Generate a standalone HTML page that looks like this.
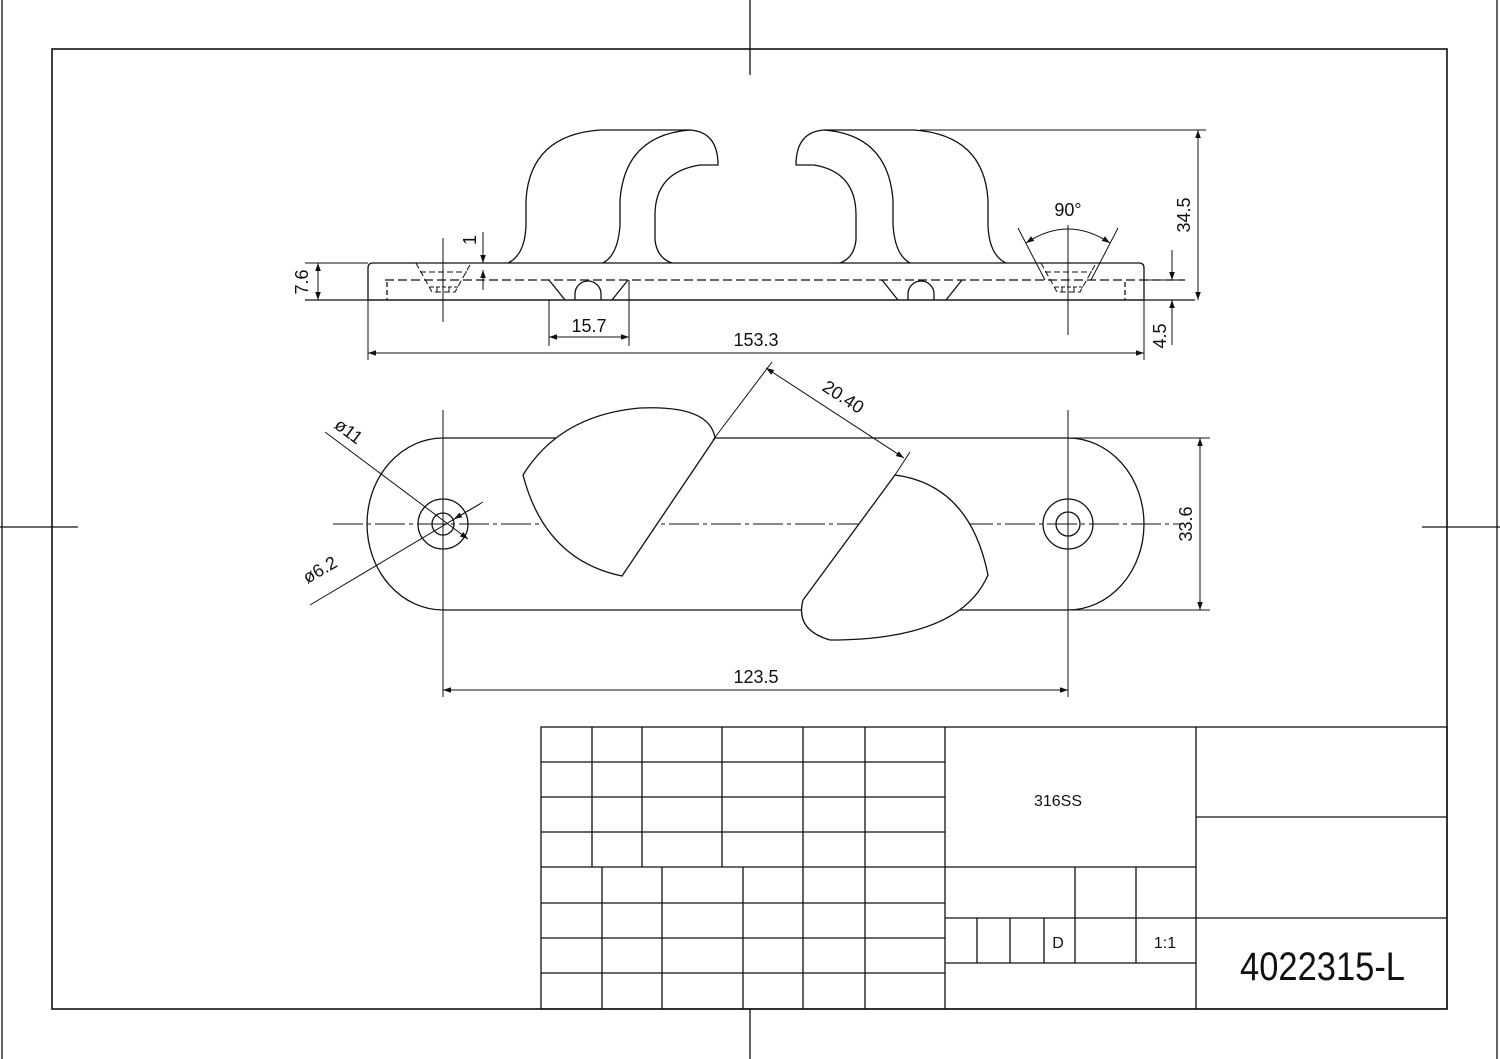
<!DOCTYPE html>
<html><head><meta charset="utf-8"><style>
html,body{margin:0;padding:0;background:#fff;}
svg{display:block;}
text{font-family:"Liberation Sans Narrow","Liberation Sans",sans-serif;fill:#111;}
</style></head><body>
<svg width="1500" height="1059" viewBox="0 0 1500 1059" xmlns="http://www.w3.org/2000/svg">
<defs>
<marker id="a" viewBox="0 0 10 10" refX="10" refY="5" markerWidth="10" markerHeight="8" orient="auto-start-reverse" markerUnits="userSpaceOnUse"><path d="M0,1.5 L10,5 L0,8.5 z" fill="#111"/></marker>
</defs>
<g fill="none" stroke="#111" stroke-width="1.3">
<line x1="2" y1="0" x2="2" y2="1059"/>
<line x1="1497" y1="0" x2="1497" y2="1059"/>
<rect x="52" y="49" width="1395" height="960" stroke-width="1.6"/>
<line x1="750" y1="0" x2="750" y2="75"/>
<line x1="750" y1="1009" x2="750" y2="1059"/>
<line x1="0" y1="527" x2="78" y2="527"/>
<line x1="1422" y1="527" x2="1500" y2="527"/>

<path d="M368,300 L368,268 Q368,263 373,263 L1139,263 Q1144,263 1144,268 L1144,300 Z"/>
<line x1="305" y1="300" x2="1195" y2="300"/>
<line x1="385" y1="280" x2="1185" y2="280" stroke-dasharray="9,4"/>
<line x1="387" y1="282" x2="387" y2="300" stroke-dasharray="5,3"/>
<line x1="1125" y1="282" x2="1125" y2="300" stroke-dasharray="5,3"/>
<path d="M508,263 Q525,255 526,225 L526,200 Q530,135 600,130 L690,130 Q718,132 718,165 L700,165 Q655,172 655,215 L655,240 Q657,258 672,263"/>
<path d="M603,263 Q618,255 620,225 L620,200 Q625,135 690,130"/>
<path d="M1006,263 Q989,255 988,225 L988,200 Q984,135 914,130 L824,130 Q796,132 796,165 L814,165 Q856,172 856,215 L856,240 Q854,258 840,263"/>
<path d="M910,263 Q895,255 893,225 L893,200 Q888,135 824,130"/>
<g stroke-width="1">
<path d="M416,263 L432,292 L455,292 L471,263" stroke-dasharray="6,3"/>
<line x1="420" y1="272" x2="467" y2="272" stroke-dasharray="6,3"/>
<line x1="430" y1="287" x2="458" y2="287" stroke-dasharray="4,2"/>
<line x1="437" y1="287" x2="437" y2="292"/><line x1="449" y1="287" x2="449" y2="292"/>
<path d="M1041,263 L1057,292 L1080,292 L1096,263" stroke-dasharray="6,3"/>
<line x1="1045" y1="272" x2="1092" y2="272" stroke-dasharray="6,3"/>
<line x1="1055" y1="287" x2="1083" y2="287" stroke-dasharray="4,2"/>
<line x1="1062" y1="287" x2="1062" y2="292"/><line x1="1074" y1="287" x2="1074" y2="292"/>
</g>
<path d="M549,280 L565,300 M628,280 L612,300 M575,300 L575,294 A13,13 0 0 1 601,294 L601,300"/>
<path d="M882,280 L898,300 M962,280 L946,300 M908,300 L908,294 A13,13 0 0 1 934,294 L934,300"/>
<line x1="443" y1="238" x2="443" y2="322" stroke-width="1"/>
<line x1="1068" y1="225" x2="1068" y2="335" stroke-width="1"/>

<line x1="305" y1="263" x2="368" y2="263" stroke-width="1"/>
<line x1="318" y1="263" x2="318" y2="300" stroke-width="1" marker-start="url(#a)" marker-end="url(#a)"/>
<line x1="470" y1="263" x2="490" y2="263" stroke-width="1"/>
<line x1="483" y1="232" x2="483" y2="263" stroke-width="1" marker-end="url(#a)"/>
<line x1="483" y1="290" x2="483" y2="270" stroke-width="1" marker-end="url(#a)"/>
<line x1="549" y1="300" x2="549" y2="346" stroke-width="1"/>
<line x1="629" y1="280" x2="629" y2="346" stroke-width="1"/>
<line x1="549" y1="337" x2="629" y2="337" stroke-width="1" marker-start="url(#a)" marker-end="url(#a)"/>
<line x1="368" y1="300" x2="368" y2="360" stroke-width="1"/>
<line x1="1144" y1="300" x2="1144" y2="360" stroke-width="1"/>
<line x1="368" y1="353" x2="1144" y2="353" stroke-width="1" marker-start="url(#a)" marker-end="url(#a)"/>
<line x1="920" y1="130" x2="1206" y2="130" stroke-width="1"/>
<line x1="1198" y1="130" x2="1198" y2="300" stroke-width="1" marker-start="url(#a)" marker-end="url(#a)"/>
<line x1="1172" y1="250" x2="1172" y2="280" stroke-width="1" marker-end="url(#a)"/>
<line x1="1172" y1="345" x2="1172" y2="300" stroke-width="1" marker-end="url(#a)"/>
<line x1="1144" y1="280" x2="1185" y2="280" stroke-width="1"/>
<line x1="1018" y1="228" x2="1045" y2="280" stroke-width="1"/>
<line x1="1118" y1="228" x2="1091" y2="280" stroke-width="1"/>
<path d="M1026,243 Q1068,215 1110,243" stroke-width="1" marker-start="url(#a)" marker-end="url(#a)"/>

<path d="M443,438 L1068,438 A76,86 0 0 1 1068,610 L443,610 A76,86 0 0 1 443,438 Z"/>
<line x1="333" y1="524" x2="1180" y2="524" stroke-width="1" stroke-dasharray="30,4,4,4"/>
<circle cx="443" cy="524" r="25"/><circle cx="443" cy="524" r="11"/>
<circle cx="1068" cy="524" r="25"/><circle cx="1068" cy="524" r="12"/>
<path d="M715,438 L622,576 Q545,560 523,475 Q560,415 640,408 Q710,405 715,438 Z" fill="#fff"/>
<path d="M895,475 L803,600 Q795,630 830,640 Q960,640 988,575 Q970,485 895,475 Z" fill="#fff"/>
<line x1="443" y1="410" x2="443" y2="697" stroke-width="1"/>
<line x1="1068" y1="410" x2="1068" y2="697" stroke-width="1"/>
<line x1="1068" y1="438" x2="1210" y2="438" stroke-width="1"/>
<line x1="1068" y1="610" x2="1210" y2="610" stroke-width="1"/>
<line x1="1200" y1="438" x2="1200" y2="610" stroke-width="1" marker-start="url(#a)" marker-end="url(#a)"/>
<line x1="443" y1="690" x2="1068" y2="690" stroke-width="1" marker-start="url(#a)" marker-end="url(#a)"/>
<line x1="713" y1="440" x2="772" y2="362" stroke-width="1"/>
<line x1="895" y1="475" x2="910" y2="452" stroke-width="1"/>
<line x1="766" y1="368" x2="904" y2="458" stroke-width="1" marker-start="url(#a)" marker-end="url(#a)"/>
<line x1="325" y1="432" x2="468" y2="539" stroke-width="1" marker-end="url(#a)"/>
<line x1="310" y1="605" x2="483" y2="502" stroke-width="1"/>
<line x1="480" y1="504" x2="454" y2="519" stroke-width="1" marker-end="url(#a)"/>

<rect x="541" y="727" width="906" height="282"/>
<line x1="945" y1="727" x2="945" y2="1009"/>
<line x1="1196" y1="727" x2="1196" y2="1009"/>
<path d="M541,762 H945 M541,797 H945 M541,832 H945 M541,867 H1196 M541,903 H945 M541,938 H945 M541,973 H945"/>
<path d="M592,727 V867 M642,727 V867 M722,727 V867 M803,727 V1009 M865,727 V1009"/>
<path d="M602,867 V1009 M662,867 V1009 M743,867 V1009"/>
<path d="M1196,817 H1447 M945,918 H1447 M945,963 H1196"/>
<path d="M1075,867 V963 M1136,867 V963 M977,918 V963 M1010,918 V963 M1044,918 V963"/>
</g>
<g font-size="18">
<text transform="translate(308,282) rotate(-90)" text-anchor="middle">7.6</text>
<text transform="translate(476,240) rotate(-90)" text-anchor="middle">1</text>
<text x="589" y="332" text-anchor="middle">15.7</text>
<text x="756" y="346" text-anchor="middle">153.3</text>
<text transform="translate(1190,215) rotate(-90)" text-anchor="middle">34.5</text>
<text transform="translate(1166,336) rotate(-90)" text-anchor="middle">4.5</text>
<text x="1068" y="216" text-anchor="middle">90°</text>
<text transform="translate(1192,524) rotate(-90)" text-anchor="middle">33.6</text>
<text x="756" y="683" text-anchor="middle">123.5</text>
<text transform="translate(840,402) rotate(33)" text-anchor="middle">20.40</text>
<text transform="translate(345,436) rotate(37)" text-anchor="middle">ø11</text>
<text transform="translate(323,575) rotate(-30)" text-anchor="middle">ø6.2</text>
<text x="1058" y="806" text-anchor="middle" font-size="16">316SS</text>
<text x="1058" y="948" text-anchor="middle" font-size="16">D</text>
<text x="1165" y="948" text-anchor="middle" font-size="16">1:1</text>
<text x="1240" y="980" font-size="40" textLength="165" lengthAdjust="spacingAndGlyphs">4022315-L</text>
</g>
</svg>
</body></html>
